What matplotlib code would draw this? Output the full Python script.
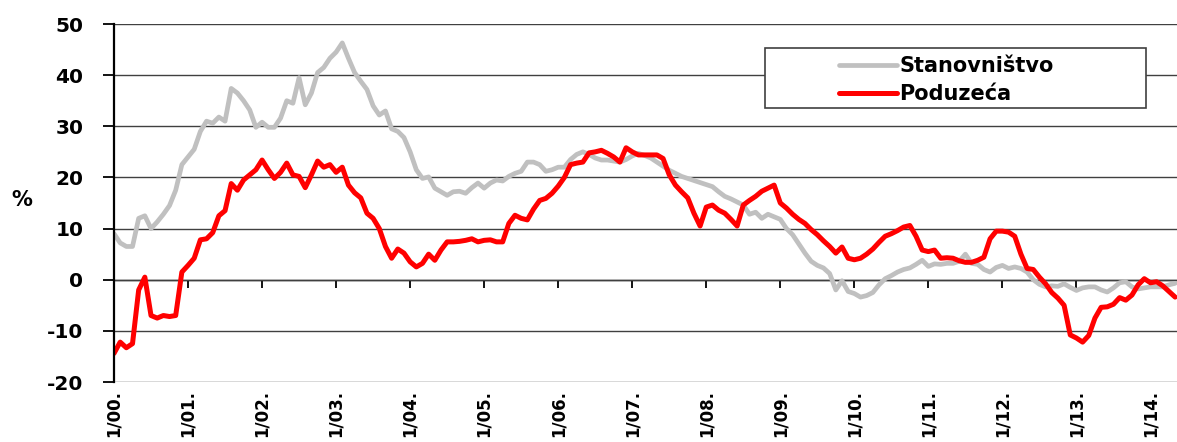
import matplotlib
matplotlib.use("Agg")
import matplotlib.pyplot as plt
from matplotlib.patches import Rectangle

plt.rcParams['font.family'] = ['DejaVu Sans']
plt.rcParams['font.weight'] = 'bold'
plt.rcParams['axes.unicode_minus'] = False

# monthly values, 1/2000 .. 5/2014
stanovnistvo = [
    9, 7.2, 6.5, 6.5, 12, 12.5, 10, 11.3, 12.8, 14.5, 17.5, 22.5,          # 2000
    24, 25.5, 29, 31, 30.6, 31.8, 31, 37.4, 36.5, 35, 33.2, 29.8,          # 2001
    30.8, 29.8, 29.8, 31.6, 35, 34.5, 39.5, 34.2, 36.5, 40.5, 41.5, 43.3,  # 2002
    44.5, 46.3, 43.3, 40.5, 38.8, 37.2, 34, 32.2, 33, 29.5, 29, 27.8,      # 2003
    25, 21.5, 19.8, 20.1, 17.9, 17.2, 16.5, 17.2, 17.3, 16.9, 18, 18.9,    # 2004
    17.9, 18.9, 19.5, 19.3, 20.2, 20.8, 21.2, 23, 23, 22.5, 21.2, 21.5,    # 2005
    22, 22, 23.5, 24.5, 25, 24.5, 23.8, 23.4, 23.4, 23.2, 23, 23.5,        # 2006
    24.2, 24.7, 24.3, 23.8, 23, 22.2, 21.4, 20.8, 20.2, 19.8, 19.4, 19,    # 2007
    18.6, 18.2, 17.2, 16.3, 15.8, 15.2, 14.6, 12.8, 13.2, 12, 12.8, 12.3,  # 2008
    11.8, 10, 8.8, 7, 5.2, 3.6, 2.8, 2.3, 1.2, -2, -0.2, -2.3,             # 2009
    -2.7, -3.4, -3.1, -2.5, -1, 0.2, 0.8, 1.5, 2, 2.3, 3, 3.8,             # 2010
    2.6, 3.1, 3, 3.2, 3.2, 3.6, 5, 3.2, 3, 2, 1.5, 2.4,                    # 2011
    2.8, 2.2, 2.5, 2.2, 1.5, 0, -0.9, -1.4, -1.2, -1.3, -0.8, -1.5,        # 2012
    -2.1, -1.6, -1.4, -1.4, -2, -2.4, -1.6, -0.6, -0.4, -1.4, -1.8, -1.6,  # 2013
    -1.4, -1.4, -1.4, -1.0, -0.7,                                          # 2014
]

poduzeca = [
    -14.4, -12.2, -13.3, -12.5, -2, 0.5, -7, -7.5, -7, -7.2, -7, 1.5,      # 2000
    2.8, 4.2, 7.8, 8, 9.2, 12.5, 13.5, 18.8, 17.5, 19.5, 20.5, 21.5,       # 2001
    23.4, 21.5, 19.8, 21, 22.8, 20.5, 20.2, 18, 20.5, 23.2, 22, 22.5,      # 2002
    21, 22, 18.5, 17, 16, 13, 12, 10, 6.5, 4.2, 6, 5.2,                    # 2003
    3.5, 2.5, 3.2, 5, 3.8, 5.8, 7.4, 7.4, 7.5, 7.7, 8, 7.4,                # 2004
    7.7, 7.8, 7.4, 7.4, 11, 12.6, 12, 11.7, 13.8, 15.5, 15.9, 16.9,        # 2005
    18.3, 20, 22.5, 22.8, 23, 24.8, 25, 25.3, 24.7, 24, 23, 25.8,          # 2006
    25, 24.4, 24.4, 24.4, 24.4, 23.7, 20.5, 18.5, 17.2, 16, 13, 10.5,      # 2007
    14.2, 14.6, 13.6, 13, 11.8, 10.5, 14.6, 15.5, 16.3, 17.3, 17.9, 18.5,  # 2008
    15, 14, 12.8, 11.8, 11, 9.8, 8.8, 7.6, 6.5, 5.2, 6.4, 4.2,             # 2009
    3.9, 4.2, 5, 6, 7.3, 8.5, 9, 9.6, 10.3, 10.6, 8.5, 5.8,                # 2010
    5.5, 5.8, 4.2, 4.3, 4.2, 3.7, 3.4, 3.4, 3.8, 4.4, 8, 9.5,              # 2011
    9.5, 9.3, 8.5, 5, 2.2, 2, 0.5, -0.8, -2.5, -3.6, -5, -10.8,            # 2012
    -11.4, -12.2, -10.9, -7.5, -5.4, -5.3, -4.8, -3.5, -4, -3, -1, 0.2,    # 2013
    -0.6, -0.4, -1.2, -2.3, -3.4,                                          # 2014
]

year_labels = ["1/00.", "1/01.", "1/02.", "1/03.", "1/04.", "1/05.", "1/06.", "1/07.",
               "1/08.", "1/09.", "1/10.", "1/11.", "1/12.", "1/13.", "1/14."]

months = list(range(len(stanovnistvo)))
year_ticks = [12 * i for i in range(len(year_labels))]

fig = plt.figure(figsize=(11.77, 4.42), dpi=100)
ax = fig.add_axes([114 / 1177, 60 / 442, 1063 / 1177, 358 / 442])

ax.plot(months, stanovnistvo, color="#c0c0c0", lw=3.4, label="Stanovništvo",
        solid_joinstyle='round', solid_capstyle='round')
ax.plot(months, poduzeca, color="#ff0000", lw=3.6, label="Poduzeća",
        solid_joinstyle='round', solid_capstyle='round')

ax.set_xlim(0, 172.3)
ax.set_ylim(-20, 50)
ax.set_yticks(range(-20, 51, 10))
ax.yaxis.grid(True, color="#404040", lw=1.0)
ax.set_axisbelow(True)

# x labels at the bottom, tick marks on the zero line (like excel)
ax.set_xticks(year_ticks)
ax.set_xticklabels(year_labels, rotation=90, va='top', ha='center')
ax.tick_params(axis='x', length=0, pad=6, labelsize=12)
ax.tick_params(axis='y', length=8, width=1.3, pad=14, labelsize=14.5, direction='out')

sec = ax.secondary_xaxis(2 / 7)
sec.set_xticks(year_ticks)
sec.tick_params(axis='x', length=6, width=1.3, labelbottom=False, labeltop=False)
sec.spines['bottom'].set_color('black')
sec.spines['bottom'].set_linewidth(1.0)

for side in ['top', 'right', 'bottom']:
    ax.spines[side].set_visible(False)
ax.spines['left'].set_linewidth(1.6)
ax.spines['left'].set_color('black')

fig.text(22 / 1177, 1 - 200 / 442, "%", fontsize=15, fontweight='bold', ha='center', va='center')

# legend box drawn separately (wide empty area on its left)
ax.add_patch(Rectangle((0.612, 0.765), 0.359, 0.168, transform=ax.transAxes,
                       facecolor='white', edgecolor='#404040', lw=1.2, zorder=3))
ax.legend(loc='upper left', bbox_to_anchor=(0.672, 0.94), frameon=False, borderpad=0,
          handlelength=2.8, handletextpad=0.12, labelspacing=0.38,
          prop={'weight': 'bold', 'size': 15}).set_zorder(5)

fig.savefig("out.png", dpi=100)
